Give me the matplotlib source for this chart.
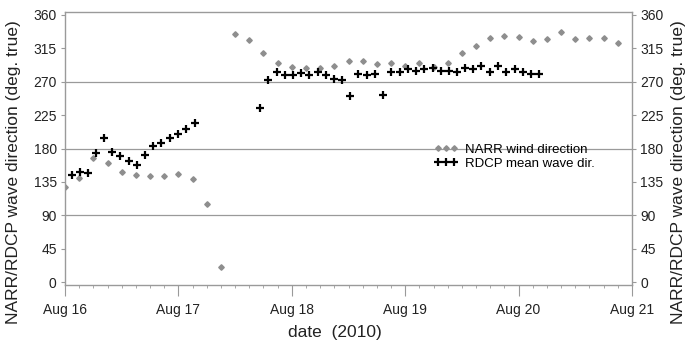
import matplotlib
matplotlib.use("Agg")
import matplotlib.pyplot as plt
import matplotlib.dates as mdates
import numpy as np
import datetime as dt

# ---- data (days since 2010-08-16 00:00) ----
narr_days = [0.0, 0.125, 0.25, 0.375, 0.5, 0.625, 0.75, 0.875, 1.0, 1.125,
             1.25, 1.375, 1.5, 1.625, 1.75, 1.875, 2.0, 2.125, 2.25, 2.375,
             2.5, 2.625, 2.75, 2.875, 3.0, 3.125, 3.25, 3.375, 3.5, 3.625,
             3.75, 3.875, 4.0, 4.125, 4.25, 4.375, 4.5, 4.625, 4.75, 4.875]
narr_dir = [127.6, 139.8, 167.6, 160.0, 148.0, 144.0, 143.0, 143.0, 145.6, 138.8,
            104.7, 19.8, 333.9, 326.0, 308.3, 294.8, 290.3, 288.0, 288.9, 291.2,
            298.3, 297.5, 293.9, 294.8, 291.2, 294.8, 290.3, 295.6, 308.3, 318.5,
            328.5, 331.6, 330.7, 325.3, 327.6, 336.6, 327.2, 328.5, 328.5, 321.8]

rdcp_days = [0.059, 0.132, 0.200, 0.273, 0.346, 0.414, 0.487, 0.560, 0.634, 0.707,
             0.777, 0.850, 0.924, 0.995, 1.068, 1.142,
             1.719, 1.793, 1.866, 1.937, 2.010, 2.083, 2.154, 2.227, 2.300, 2.371,
             2.444, 2.515, 2.588, 2.661, 2.735, 2.805, 2.879, 2.952, 3.022, 3.096,
             3.169, 3.242, 3.313, 3.386, 3.457, 3.530, 3.598, 3.671, 3.744, 3.818,
             3.891, 3.964, 4.038, 4.108, 4.181]
rdcp_dir = [144.0, 148.7, 146.5, 173.5, 194.5, 174.8, 169.4, 163.1, 158.1, 171.2,
            183.7, 187.0, 194.0, 199.0, 206.2, 214.7,
            234.1, 272.3, 283.0, 279.5, 279.5, 282.2, 279.5, 282.7, 278.6, 274.0,
            272.3, 250.7, 280.4, 279.5, 280.4, 251.7, 283.0, 283.0, 286.7, 284.4,
            286.7, 288.0, 284.4, 284.4, 283.0, 288.9, 287.2, 290.7, 282.7, 291.7,
            282.7, 287.2, 283.2, 280.4, 280.4]

y_ticks = [0, 45, 90, 135, 180, 225, 270, 315, 360]
grid_vals = [90, 180, 270]
series_labels = ["NARR wind direction", "RDCP mean wave dir."]
ylabel_text = "NARR/RDCP wave direction (deg. true)"
xlabel_text = "date  (2010)"

base = dt.datetime(2010, 8, 16)
narr_t = [base + dt.timedelta(days=d) for d in narr_days]
rdcp_t = [base + dt.timedelta(days=d) for d in rdcp_days]

plt.rcParams['font.family'] = ['Liberation Sans', 'DejaVu Sans']

W, H = 689, 347
fig = plt.figure(figsize=(W/100, H/100), dpi=100)
ax = fig.add_axes([65/W, 1 - 285/H, 567/W, 273/H])

gcol = '#9a9a9a'
tcol = '#222222'
for g in grid_vals:
    ax.axhline(g, color=gcol, lw=0.9, zorder=0)

ax.plot(narr_t, narr_dir, ls='none', marker='D', ms=2.8, color='#8e8e8e',
        mec='#8e8e8e', label=series_labels[0], zorder=2)
ax.plot(rdcp_t, rdcp_dir, ls='none', marker='+', ms=5.6, mew=1.6, color='black',
        label=series_labels[1], zorder=3)

ax.set_xlim(base, base + dt.timedelta(days=5))
ax.set_ylim(-4, 364)
ax.set_yticks(y_ticks)

ax.xaxis.set_major_locator(mdates.DayLocator())
ax.xaxis.set_major_formatter(mdates.DateFormatter('%b %-d'))
ax.xaxis.set_minor_locator(mdates.HourLocator(byhour=range(0, 24, 3)))

for s in ax.spines.values():
    s.set_color(gcol)
    s.set_linewidth(1.0)

ax.tick_params(axis='both', which='major', direction='out', colors=gcol,
               labelcolor=tcol, labelsize=10)
ax.tick_params(axis='x', which='major', length=8, pad=5)
ax.tick_params(axis='x', which='minor', length=2.5, color=gcol)
ax.tick_params(axis='y', which='major', length=3, labelleft=True,
               labelright=True, right=True, pad=3)

fig.text(335/W, 1 - 333/H, xlabel_text, fontsize=12.5, color=tcol,
         ha='center', va='center')
fig.text(14/W, 1 - 172/H, ylabel_text, fontsize=12.5, color=tcol,
         ha='center', va='center', rotation=90)
fig.text(679/W, 1 - 172/H, ylabel_text, fontsize=12.5, color=tcol,
         ha='center', va='center', rotation=90)

leg = ax.legend(loc='center left', bbox_to_anchor=(0.64, 0.47), frameon=False,
                numpoints=3, fontsize=9.5, handlelength=1.8, handletextpad=0.5,
                labelspacing=0.15, borderpad=0)

fig.savefig('out.png', dpi=100)
